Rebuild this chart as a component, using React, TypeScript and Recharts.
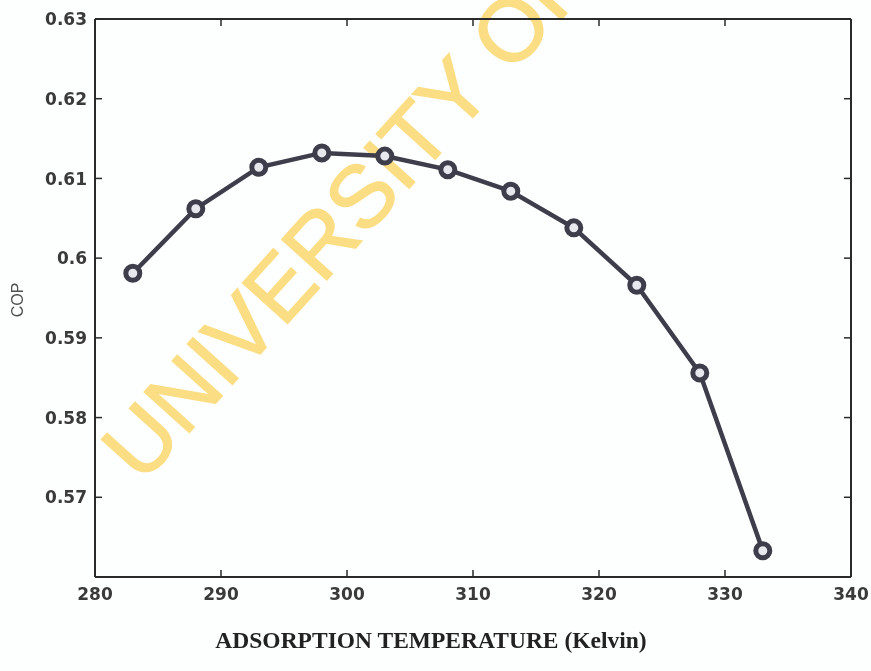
import React from 'react';
import { LineChart, Line, XAxis, YAxis, Label, Customized, ReferenceLine } from 'recharts';

const temperatures = [283, 288, 293, 298, 303, 308, 313, 318, 323, 328, 333];
const copValues = [0.5981, 0.6062, 0.6114, 0.6132, 0.6128, 0.6111, 0.6084, 0.6038, 0.5966, 0.5856, 0.5633];
const xTicks = [280, 290, 300, 310, 320, 330, 340];
const yTicks = [0.57, 0.58, 0.59, 0.6, 0.61, 0.62, 0.63];
const xDomain = [280, 340];
const yDomain = [0.56, 0.63];
const xLabel = 'ADSORPTION TEMPERATURE (Kelvin)';
const yLabel = 'COP';
const watermark = 'UNIVERSITY OF';

const data = temperatures.map((t, i) => ({ t, cop: copValues[i] }));

const CHART_W = 871;
const CHART_H = 671;
const MARGIN = { top: 19, right: 20, left: 0, bottom: 0 };
const Y_AXIS_W = 95;
const X_AXIS_H = 94;
const PLOT_W = CHART_W - MARGIN.left - MARGIN.right - Y_AXIS_W;
const PLOT_H = CHART_H - MARGIN.top - MARGIN.bottom - X_AXIS_H;

const AXIS = '#2a2a2a';
const TICK_TEXT = '#3a3a3a';
const LINE = '#3d3d4c';
const WATERMARK = '#fddf85';
const TICK_LEN_PX = 7;
const Y_MARGIN = 8;
const X_MARGIN = 10;

// tick length expressed in data units so that ticks are placed through the scales
const xTickLen = ((xDomain[1] - xDomain[0]) / PLOT_W) * TICK_LEN_PX;
const yTickLen = ((yDomain[1] - yDomain[0]) / PLOT_H) * TICK_LEN_PX;

const LeftTick = (props: any) => {
  const { x, y, payload } = props;
  return (
    <text x={x} y={y} dy="0.36em" textAnchor="end" fontFamily="DejaVu Sans" fontWeight="bold" fontSize={17} fill={TICK_TEXT}>
      {payload.value}
    </text>
  );
};

const BottomTick = (props: any) => {
  const { x, y, payload } = props;
  return (
    <text x={x} y={y + 13} textAnchor="middle" fontFamily="DejaVu Sans" fontWeight="bold" fontSize={17} fill={TICK_TEXT}>
      {payload.value}
    </text>
  );
};

const Watermark = () => (
  <text
    x={142}
    y={485}
    transform="rotate(-48 142 485)"
    fontFamily="Liberation Sans"
    fontSize={88}
    fill={WATERMARK}
    stroke={WATERMARK}
    strokeWidth={1.5}
    style={{ mixBlendMode: 'multiply' }}
  >
    {watermark}
  </text>
);

export default function App() {
  return (
    <div style={{ position: 'absolute', left: 0, top: 0, background: '#fdfefe' }}>
      <LineChart width={CHART_W} height={CHART_H} data={data} margin={MARGIN}>
        <XAxis
          dataKey="t"
          type="number"
          domain={xDomain}
          ticks={xTicks}
          height={X_AXIS_H}
          tickSize={0}
          tickMargin={X_MARGIN}
          tickLine={false}
          stroke={AXIS}
          strokeWidth={2}
          tick={<BottomTick />}
          interval={0}
        >
          <Label
            content={(p: any) => {
              const vb = p.viewBox;
              return (
                <text
                  x={vb.x + vb.width / 2 - 42}
                  y={648}
                  textAnchor="middle"
                  fontFamily="Liberation Serif"
                  fontWeight="bold"
                  fontSize={23.5}
                  fill="#222"
                >
                  {xLabel}
                </text>
              );
            }}
          />
        </XAxis>
        <YAxis
          type="number"
          domain={yDomain}
          ticks={yTicks}
          width={Y_AXIS_W}
          tickSize={0}
          tickMargin={Y_MARGIN}
          tickLine={false}
          stroke={AXIS}
          strokeWidth={2}
          tick={<LeftTick />}
          interval={0}
        >
          <Label
            content={(p: any) => {
              const vb = p.viewBox;
              const cx = vb.x + 17;
              const cy = vb.y + vb.height / 2 + 2;
              return (
                <text
                  x={cx}
                  y={cy}
                  transform={`rotate(-90 ${cx} ${cy})`}
                  textAnchor="middle"
                  dy="0.36em"
                  fontFamily="Liberation Sans"
                  fontSize={16}
                  fill="#505050"
                >
                  {yLabel}
                </text>
              );
            }}
          />
        </YAxis>
        {/* box: top and right edges */}
        <ReferenceLine y={yDomain[1]} stroke={AXIS} strokeWidth={2} />
        <ReferenceLine x={xDomain[1]} stroke={AXIS} strokeWidth={2} />
        {/* inward ticks on bottom and top */}
        {xTicks.map((t) => (
          <ReferenceLine
            key={`xb${t}`}
            segment={[{ x: t, y: yDomain[0] }, { x: t, y: yDomain[0] + yTickLen }]}
            stroke={AXIS}
            strokeWidth={1.5}
          />
        ))}
        {xTicks.map((t) => (
          <ReferenceLine
            key={`xt${t}`}
            segment={[{ x: t, y: yDomain[1] }, { x: t, y: yDomain[1] - yTickLen }]}
            stroke={AXIS}
            strokeWidth={1.5}
          />
        ))}
        {/* inward ticks on left and right */}
        {yTicks.map((v) => (
          <ReferenceLine
            key={`yl${v}`}
            segment={[{ x: xDomain[0], y: v }, { x: xDomain[0] + xTickLen, y: v }]}
            stroke={AXIS}
            strokeWidth={1.5}
          />
        ))}
        {yTicks.map((v) => (
          <ReferenceLine
            key={`yr${v}`}
            segment={[{ x: xDomain[1], y: v }, { x: xDomain[1] - xTickLen, y: v }]}
            stroke={AXIS}
            strokeWidth={1.5}
          />
        ))}
        <Line
          dataKey="cop"
          type="linear"
          stroke={LINE}
          strokeWidth={4.5}
          dot={{ r: 7, stroke: LINE, strokeWidth: 5, fill: '#e6e8ee' }}
          isAnimationActive={false}
        />
        <Customized component={Watermark} />
      </LineChart>
    </div>
  );
}
